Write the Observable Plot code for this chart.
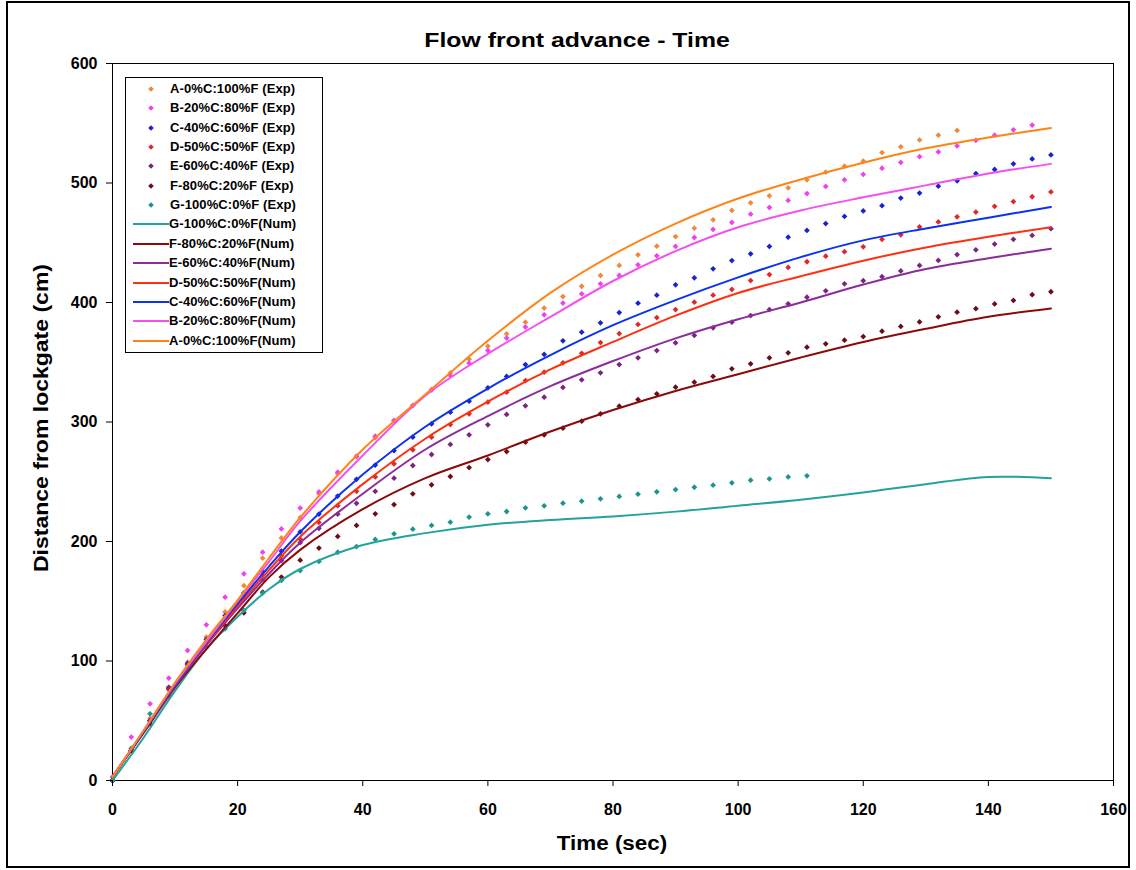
<!DOCTYPE html>
<html><head><meta charset="utf-8">
<script src="https://cdn.jsdelivr.net/npm/d3@7"></script>
<script src="https://cdn.jsdelivr.net/npm/@observablehq/plot@0.6"></script>
<style>
body{margin:0;background:#fff;}
#wrap{position:relative;width:1136px;height:870px;font-family:"Liberation Sans",Arial,sans-serif;font-weight:bold;color:#000;overflow:hidden;}
#wrap svg{position:absolute;left:0;top:0;}
#wrap svg text{font-weight:bold;}
.outer{position:absolute;left:6px;top:1px;width:1120px;height:863px;border:2px solid #000;}
.title{position:absolute;left:577px;top:29px;transform:translateX(-50%) scaleX(1.24);font-size:20px;white-space:nowrap;line-height:22px;}
.xlab{position:absolute;left:612px;top:831px;transform:translateX(-50%) scaleX(1.12);font-size:20px;white-space:nowrap;line-height:24px;}
.ylab{position:absolute;left:41px;top:418px;transform:translate(-50%,-50%) rotate(-90deg) scaleX(1.15);font-size:20px;white-space:nowrap;line-height:22px;}
.legend{position:absolute;left:125px;top:77px;width:196px;height:274px;border:1px solid #000;background:#fff;}
.row{position:absolute;left:0;height:18px;width:196px;}
.row span{position:absolute;left:43px;top:0;font-size:13px;line-height:18px;white-space:nowrap;letter-spacing:0.1px;}
</style></head><body>
<div id="wrap"></div>
<script>
// ---------- data ----------
const tExp = [0,3,6,9,12,15,18,21,24,27,30,33,36,39,42,45,48,51,54,57,60,63,66,69,72,75,78,81,84,87,90,93,96,99,102,105,108,111,114,117,120,123,126,129,132,135,138,141,144,147,150];
const tNum = [0,5,10,15,20,25,30,40,50,60,70,80,90,100,110,120,130,140,150];

const A_exp = [0,27,52,78,99,120,141,163,186,203,220,240,257,271,287,301,314,327,341,352.6,363.4,373.8,383.5,395.3,405,413.6,422.6,431,439.9,447.1,455.2,462.2,469.2,477,483.4,489.3,496,502.7,509.1,514.1,518.4,525.5,530.3,536,540,544];
const B_exp = [3,36.3,64.2,85.6,108.8,130.3,153.4,173,191.1,210.5,228,241.5,258,271.4,288.1,301.3,313.8,326.9,338.9,349.2,359.8,370.2,379.4,389.7,399.5,407.3,415.6,422.6,431.5,439.1,446.9,454.4,461.1,467,473.9,479.5,485.4,491.2,497.1,502.7,507.3,512.4,517.2,522,526,531,535.7,540,544.5,548.5];
const C_exp = [0,25,50,77,98,118,138,157,175,192,208,223,238,252,264,276,287.3,298.5,308.2,317.4,328.6,338.1,348.1,356.5,367.9,375.2,383,391.6,399.4,406.1,414.8,420.7,428.2,435.1,440.7,446.9,454.7,460.3,466.1,472,476.6,481,487.4,491.6,497.3,501.8,507.9,511.3,516.1,520.1,523.5];
const D_exp = [0,25,50,76,97,116,136,155,172,188,202,216,230,242,254,265,276.7,287.3,297.9,306.8,316.6,325,334.7,341.7,349.5,357.5,366.5,374,381.6,387.4,394.1,400.3,406.1,410.9,418.4,423.4,429.3,434.1,438.8,442.5,446.6,452.9,456.6,463.2,467.4,471.7,475.7,480.5,484.5,488.5,492.5];
const E_exp = [0,25,50,78,97,115,134,152,168,184,199,211,223,232,242,253,263.6,272.8,281.2,289.3,297.6,306.3,313.5,320.8,328.9,335.3,341.2,348.1,353.7,359.8,366.3,372.4,378.8,383.5,389.1,394.1,398.9,404.4,409.8,415.6,418.2,421.6,426.4,431,435.2,440.1,444.1,448.9,452.9,456.1,461.8];
const F_exp = [0,25,47.4,71.1,93.5,111.6,129.7,140.3,157.6,170.2,184.4,194.5,204.2,213.4,223.2,230.9,239.9,247.4,254.4,261.9,268.6,275.3,283.1,289.3,294.8,300.7,306.8,313.2,318.8,323.6,329.1,333.3,338.1,344.5,348.7,353.7,357.9,362.6,365.4,368.5,371.5,376,380,383.7,388,391.9,394.8,398.8,401.7,406.5,409];
const G_exp = [0,26.5,55.8,71,94.8,111.6,126.9,142.3,156.8,167.4,175.7,183.3,191,195.8,201.7,206.4,210.3,213.4,216.2,220.4,223.2,225.1,228.2,229.9,232.1,233.7,235.7,237.7,239.6,241.6,243.5,245.4,247.1,249.1,251.3,252.5,254,255];

const A_num = [3,42,82,118,151,186,220,277,323,368,408,440,466,487,503,517,529,538,546];
const B_num = [3,42,81,116,150,183,217,272,322,357,388,418,443,463,477,488,498,508,516];
const C_num = [3,41,80,115,148,179,208,256,296,328,356,381,402,421,438,452,462,471,480];
const D_num = [3,41,80,114,146,176,204,248,286,317,344,367,389,408,422,435,446,455,463];
const E_num = [3,41,79,113,144,173,199,240,277,305,330,351,370,386,400,415,428,437,445];
const F_num = [3,40,78,110,140,170,193,227,253,272,292,310,326,340,354,367,378,388,395];
const G_num = [0,36,75,110,137,160,177,197,207,214,218,221,225,230,235,241,248,254,253];

const expLabels = ["A-0%C:100%F (Exp)","B-20%C:80%F (Exp)","C-40%C:60%F (Exp)","D-50%C:50%F (Exp)","E-60%C:40%F (Exp)","F-80%C:20%F (Exp)","G-100%C:0%F (Exp)"];
const numLabels = ["G-100%C:0%F(Num)","F-80%C:20%F(Num)","E-60%C:40%F(Num)","D-50%C:50%F(Num)","C-40%C:60%F(Num)","B-20%C:80%F(Num)","A-0%C:100%F(Num)"];
const expSeries = [A_exp,B_exp,C_exp,D_exp,E_exp,F_exp,G_exp];
const numSeries = [G_num,F_num,E_num,D_num,C_num,B_num,A_num];
const expColors = ["#EE8A3C","#F040F0","#1C22D0","#E02828","#7A2580","#6A0E18","#1A968E"];
const numColors = ["#22A39B","#8A0A0A","#8C2C9C","#FF3010","#0A32F0","#F250F0","#FF8418"];

const xTicks = [0,20,40,60,80,100,120,140,160];
const yTicks = [0,100,200,300,400,500,600];
const titleText = "Flow front advance - Time";
const xTitle = "Time (sec)";
const yTitle = "Distance from lockgate (cm)";

// ---------- chart ----------
const marks = [Plot.frame({stroke:"#000", strokeWidth:1})];
expSeries.forEach((vals, i) => {
  const data = vals.map((v, k) => ({t: tExp[k], v}));
  marks.push(Plot.dot(data, {x:"t", y:"v", fill: expColors[i], stroke:"none", r:2.3, symbol:"square", rotate:45}));
});
numSeries.forEach((vals, i) => {
  const data = vals.map((v, k) => ({t: tNum[k], v}));
  marks.push(Plot.line(data, {x:"t", y:"v", stroke: numColors[i], strokeWidth:2, curve:"catmull-rom"}));
});
marks.push(Plot.axisX({ticks:xTicks, tickSize:6, tickPadding:17, fontSize:16, fontWeight:"bold", label:null, stroke:"#000"}));
marks.push(Plot.axisY({ticks:yTicks, tickSize:6, tickPadding:9, fontSize:16, fontWeight:"bold", label:null, stroke:"#000"}));

const chart = Plot.plot({
  width:1136, height:870,
  marginLeft:112, marginRight:23, marginTop:63, marginBottom:90,
  x:{domain:[0,160]},
  y:{domain:[0,600]},
  style:{fontFamily:'"Liberation Sans", Arial, sans-serif', color:"#000", background:"transparent"},
  marks
});

const wrap = document.getElementById("wrap");
wrap.appendChild(chart);

const outer = document.createElement("div"); outer.className = "outer"; wrap.appendChild(outer);
const t = document.createElement("div"); t.className = "title"; t.textContent = titleText; wrap.appendChild(t);
const xl = document.createElement("div"); xl.className = "xlab"; xl.textContent = xTitle; wrap.appendChild(xl);
const yl = document.createElement("div"); yl.className = "ylab"; yl.textContent = yTitle; wrap.appendChild(yl);

// legend
const lg = document.createElement("div"); lg.className = "legend"; wrap.appendChild(lg);
const rows = [];
expLabels.forEach((l, i) => rows.push({label:l, color:expColors[i], kind:"dot"}));
numLabels.forEach((l, i) => rows.push({label:l, color:numColors[i], kind:"line"}));
rows.forEach((r, i) => {
  const row = document.createElement("div"); row.className = "row";
  row.style.top = (2 + 19.35 * i) + "px";
  const svgNS = "http://www.w3.org/2000/svg";
  const s = document.createElementNS(svgNS, "svg");
  s.setAttribute("width", 44); s.setAttribute("height", 18);
  s.style.position = "absolute"; s.style.left = "0"; s.style.top = "0";
  if (r.kind === "dot") {
    const p = document.createElementNS(svgNS, "path");
    p.setAttribute("d", "M25,6.2 L27.8,9 L25,11.8 L22.2,9 Z");
    p.setAttribute("fill", r.color);
    s.appendChild(p);
  } else {
    const ln = document.createElementNS(svgNS, "line");
    ln.setAttribute("x1", 7); ln.setAttribute("x2", 43); ln.setAttribute("y1", 9); ln.setAttribute("y2", 9);
    ln.setAttribute("stroke", r.color); ln.setAttribute("stroke-width", 2);
    s.appendChild(ln);
  }
  row.appendChild(s);
  const sp = document.createElement("span"); sp.textContent = r.label;
  if (r.kind === "line") sp.style.left = "43px"; else sp.style.left = "44px";
  row.appendChild(sp);
  lg.appendChild(row);
});
</script>
</body></html>
